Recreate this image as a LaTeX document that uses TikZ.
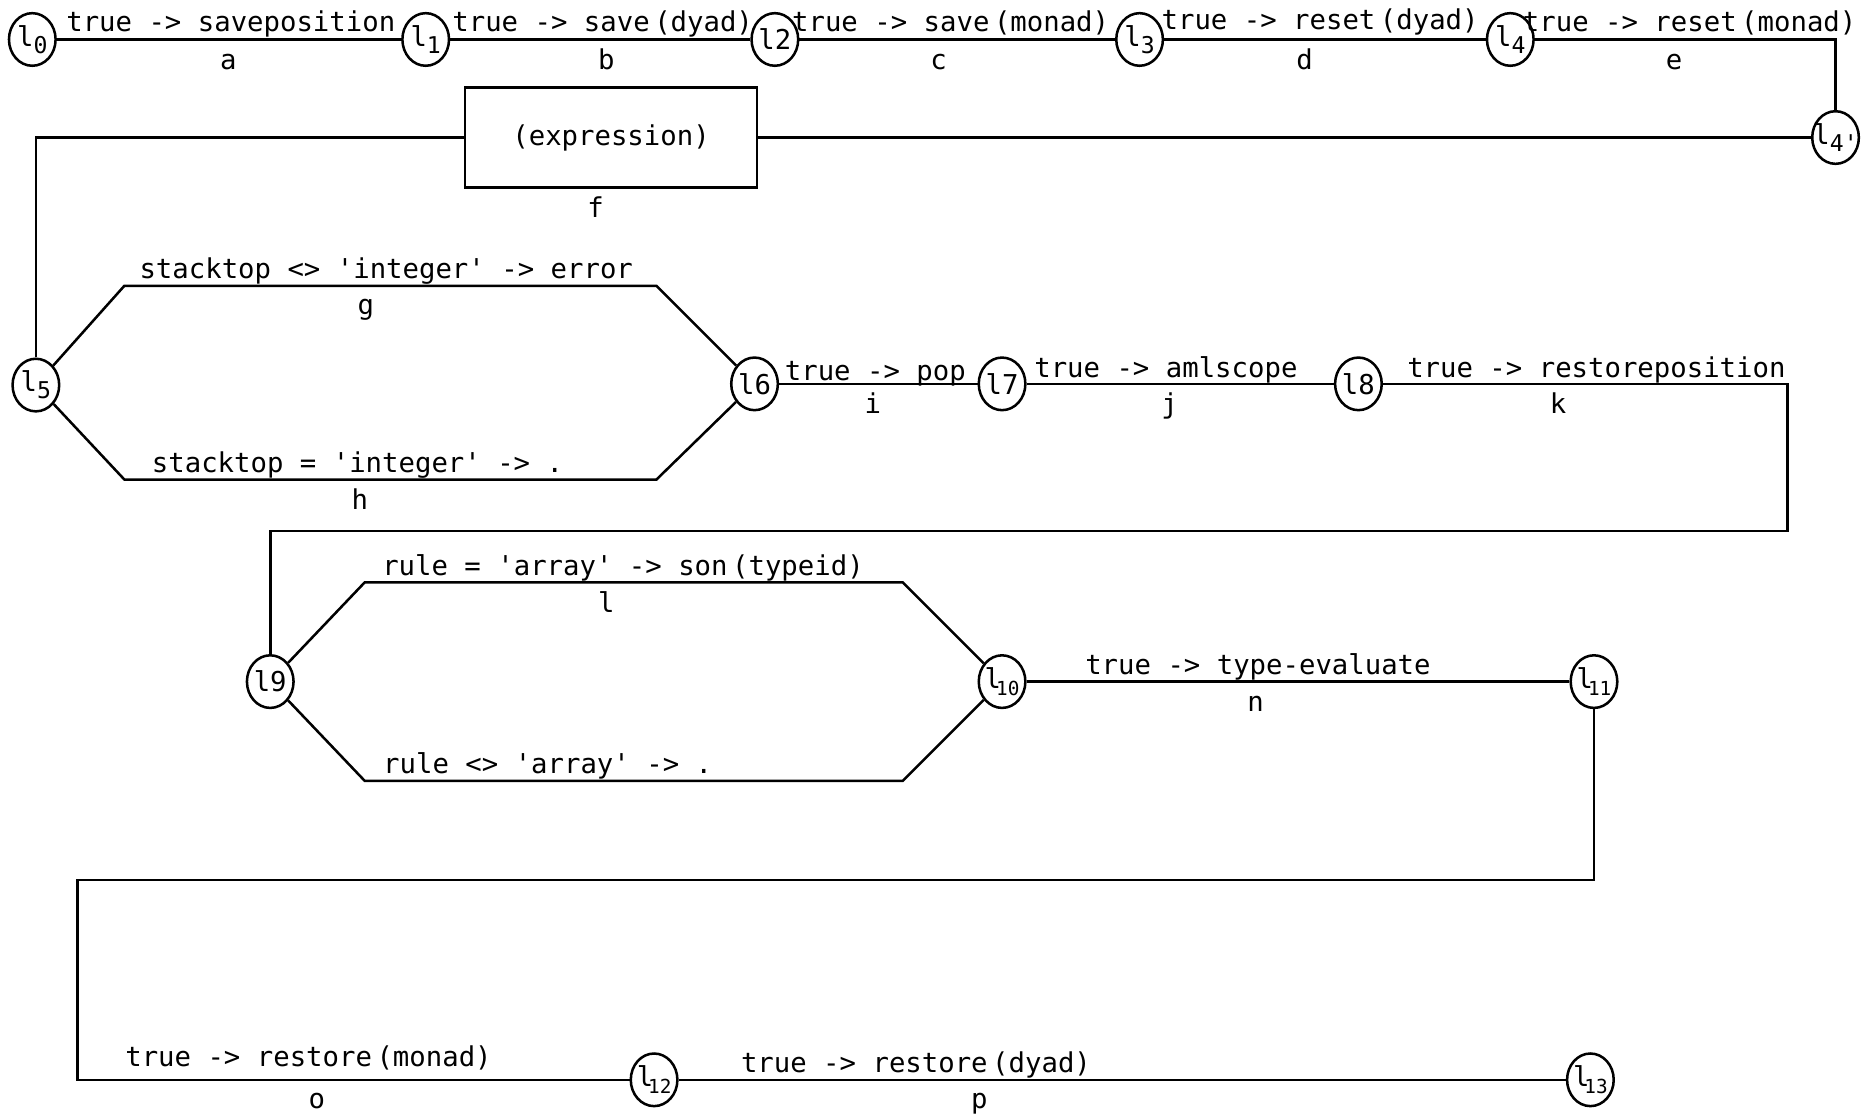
\documentclass[tikz,border=0pt]{standalone}
\usepackage{fontspec}
\setmonofont{DejaVu Sans Mono}
\usetikzlibrary{shapes.geometric}
\newcommand{\lsub}[1]{\makebox[0pt]{l\raisebox{-0.45ex}{\fontsize{5.5}{6}\selectfont #1}}}
\newcommand{\lsubb}[1]{\makebox[0pt]{l\kern-1.2pt\raisebox{-0.45ex}{\fontsize{4.6}{5}\selectfont #1}}}
\newcommand{\lfull}[1]{\makebox[0pt]{l#1}}

\begin{document}
\begin{tikzpicture}[x=0.1mm, y=-0.1mm, line width=0.6pt,
    font=\ttfamily\fontsize{6.5}{8}\selectfont]
    \tikzset{state/.style={ellipse, draw, inner sep=0pt, minimum width=3.9mm,
      minimum height=4.4mm, fill=white},
      cond/.style={anchor=base},
      tag/.style={anchor=base}}
    \useasboundingbox (0,0) rectangle (1568,931);

    % Row 1: l0 .. l4
    \node[state] (l0) at (27,33) {\lsub{0}};
    \node[state] (l1) at (356,33) {\lsub{1}};
    \node[state] (l2) at (648,33) {\lfull{2}};
    \node[state] (l3) at (953,33) {\lsub{3}};
    \node[state] (l4) at (1263,33) {\lsub{4}};
    \node[state] (l4p) at (1535,115) {\lsub{4'}};
    \draw (l0) -- (l1) -- (l2) -- (l3) -- (l4);
    \draw (l4) -- (l4 -| l4p) -- (l4p);
    \node[cond] at (193,26) {true -> saveposition};
    \node[tag] at (191,58) {a};
    \node[cond] at (504,26) {true -> save\,(dyad)};
    \node[tag] at (507,58) {b};
    \node[cond] at (795,26) {true -> save\,(monad)};
    \node[tag] at (785,58) {c};
    \node[cond] at (1104,25) {true -> reset\,(dyad)};
    \node[tag] at (1091,58) {d};
    \node[cond] at (1413,26) {true -> reset\,(monad)};
    \node[tag] at (1400,58) {e};

    % Expression box
    \node[draw, minimum width=24.4mm, minimum height=8.4mm] (expr) at (511,115) {(expression)};
    \node[tag] at (498,182) {f};
    \node[state] (l5) at (30,322) {\lsub{5}};
    \draw (l4p) -- (expr);
    \draw (expr) -- (l5 |- expr) -- (l5);

    % Hexagon g / h
    \node[state] (l6) at (631,321) {\lfull{6}};
    \coordinate (g1) at (104,239);
    \coordinate (g2) at (549,239);
    \coordinate (h1) at (104,401);
    \coordinate (h2) at (549,401);
    \draw (l5) -- (g1) -- (g2) -- (l6);
    \draw (l5) -- (h1) -- (h2) -- (l6);
    \node[cond] at (323,233) {stacktop <> 'integer' -> error};
    \node[tag] at (306,263) {g};
    \node[cond] at (299,395) {stacktop = 'integer' -> .};
    \node[tag] at (301,426) {h};

    % Row l6 .. l8
    \node[state] (l7) at (838,321) {\lfull{7}};
    \node[state] (l8) at (1136,321) {\lfull{8}};
    \draw (l6) -- (l7) -- (l8);
    \node[cond] at (732,318) {true -> pop};
    \node[tag] at (730,346) {i};
    \node[cond] at (975,316) {true -> amlscope};
    \node[tag] at (978,346) {j};
    \node[cond] at (1335,316) {true -> restoreposition};
    \node[tag] at (1303,346) {k};
    \node[state] (l9) at (226,570) {\lfull{9}};
    \coordinate (k1) at (1495,321);
    \coordinate (k2) at (1495,444);
    \draw (l8) -- (k1) -- (k2) -- (l9 |- k2) -- (l9);

    % Hexagon l
    \node[state] (l10) at (838,570) {\lsubb{10}};
    \coordinate (r1) at (305,487);
    \coordinate (r2) at (755,487);
    \coordinate (r3) at (305,653);
    \coordinate (r4) at (755,653);
    \draw (l9) -- (r1) -- (r2) -- (l10);
    \draw (l9) -- (r3) -- (r4) -- (l10);
    \node[cond] at (521,481) {rule = 'array' -> son\,(typeid)};
    \node[tag] at (507,512) {l};
    \node[cond] at (458,647) {rule <> 'array' -> .};

    % Row l10 .. l11
    \node[state] (l11) at (1333,570) {\lsubb{11}};
    \draw (l10) -- (l11);
    \node[cond] at (1052,564) {true -> type-evaluate};
    \node[tag] at (1050,595) {n};

    % Bottom row
    \node[state] (l12) at (547,903) {\lsubb{12}};
    \node[state] (l13) at (1330,903) {\lsubb{13}};
    \coordinate (o1) at (1333,736);
    \coordinate (o2) at (65,736);
    \coordinate (o3) at (65,903);
    \draw (l11) -- (o1) -- (o2) -- (o3) -- (l12);
    \draw (l12) -- (l13);
    \node[cond] at (258,892) {true -> restore\,(monad)};
    \node[tag] at (265,927) {o};
    \node[cond] at (766,897) {true -> restore\,(dyad)};
    \node[tag] at (819,927) {p};
  \end{tikzpicture}
\end{document}
